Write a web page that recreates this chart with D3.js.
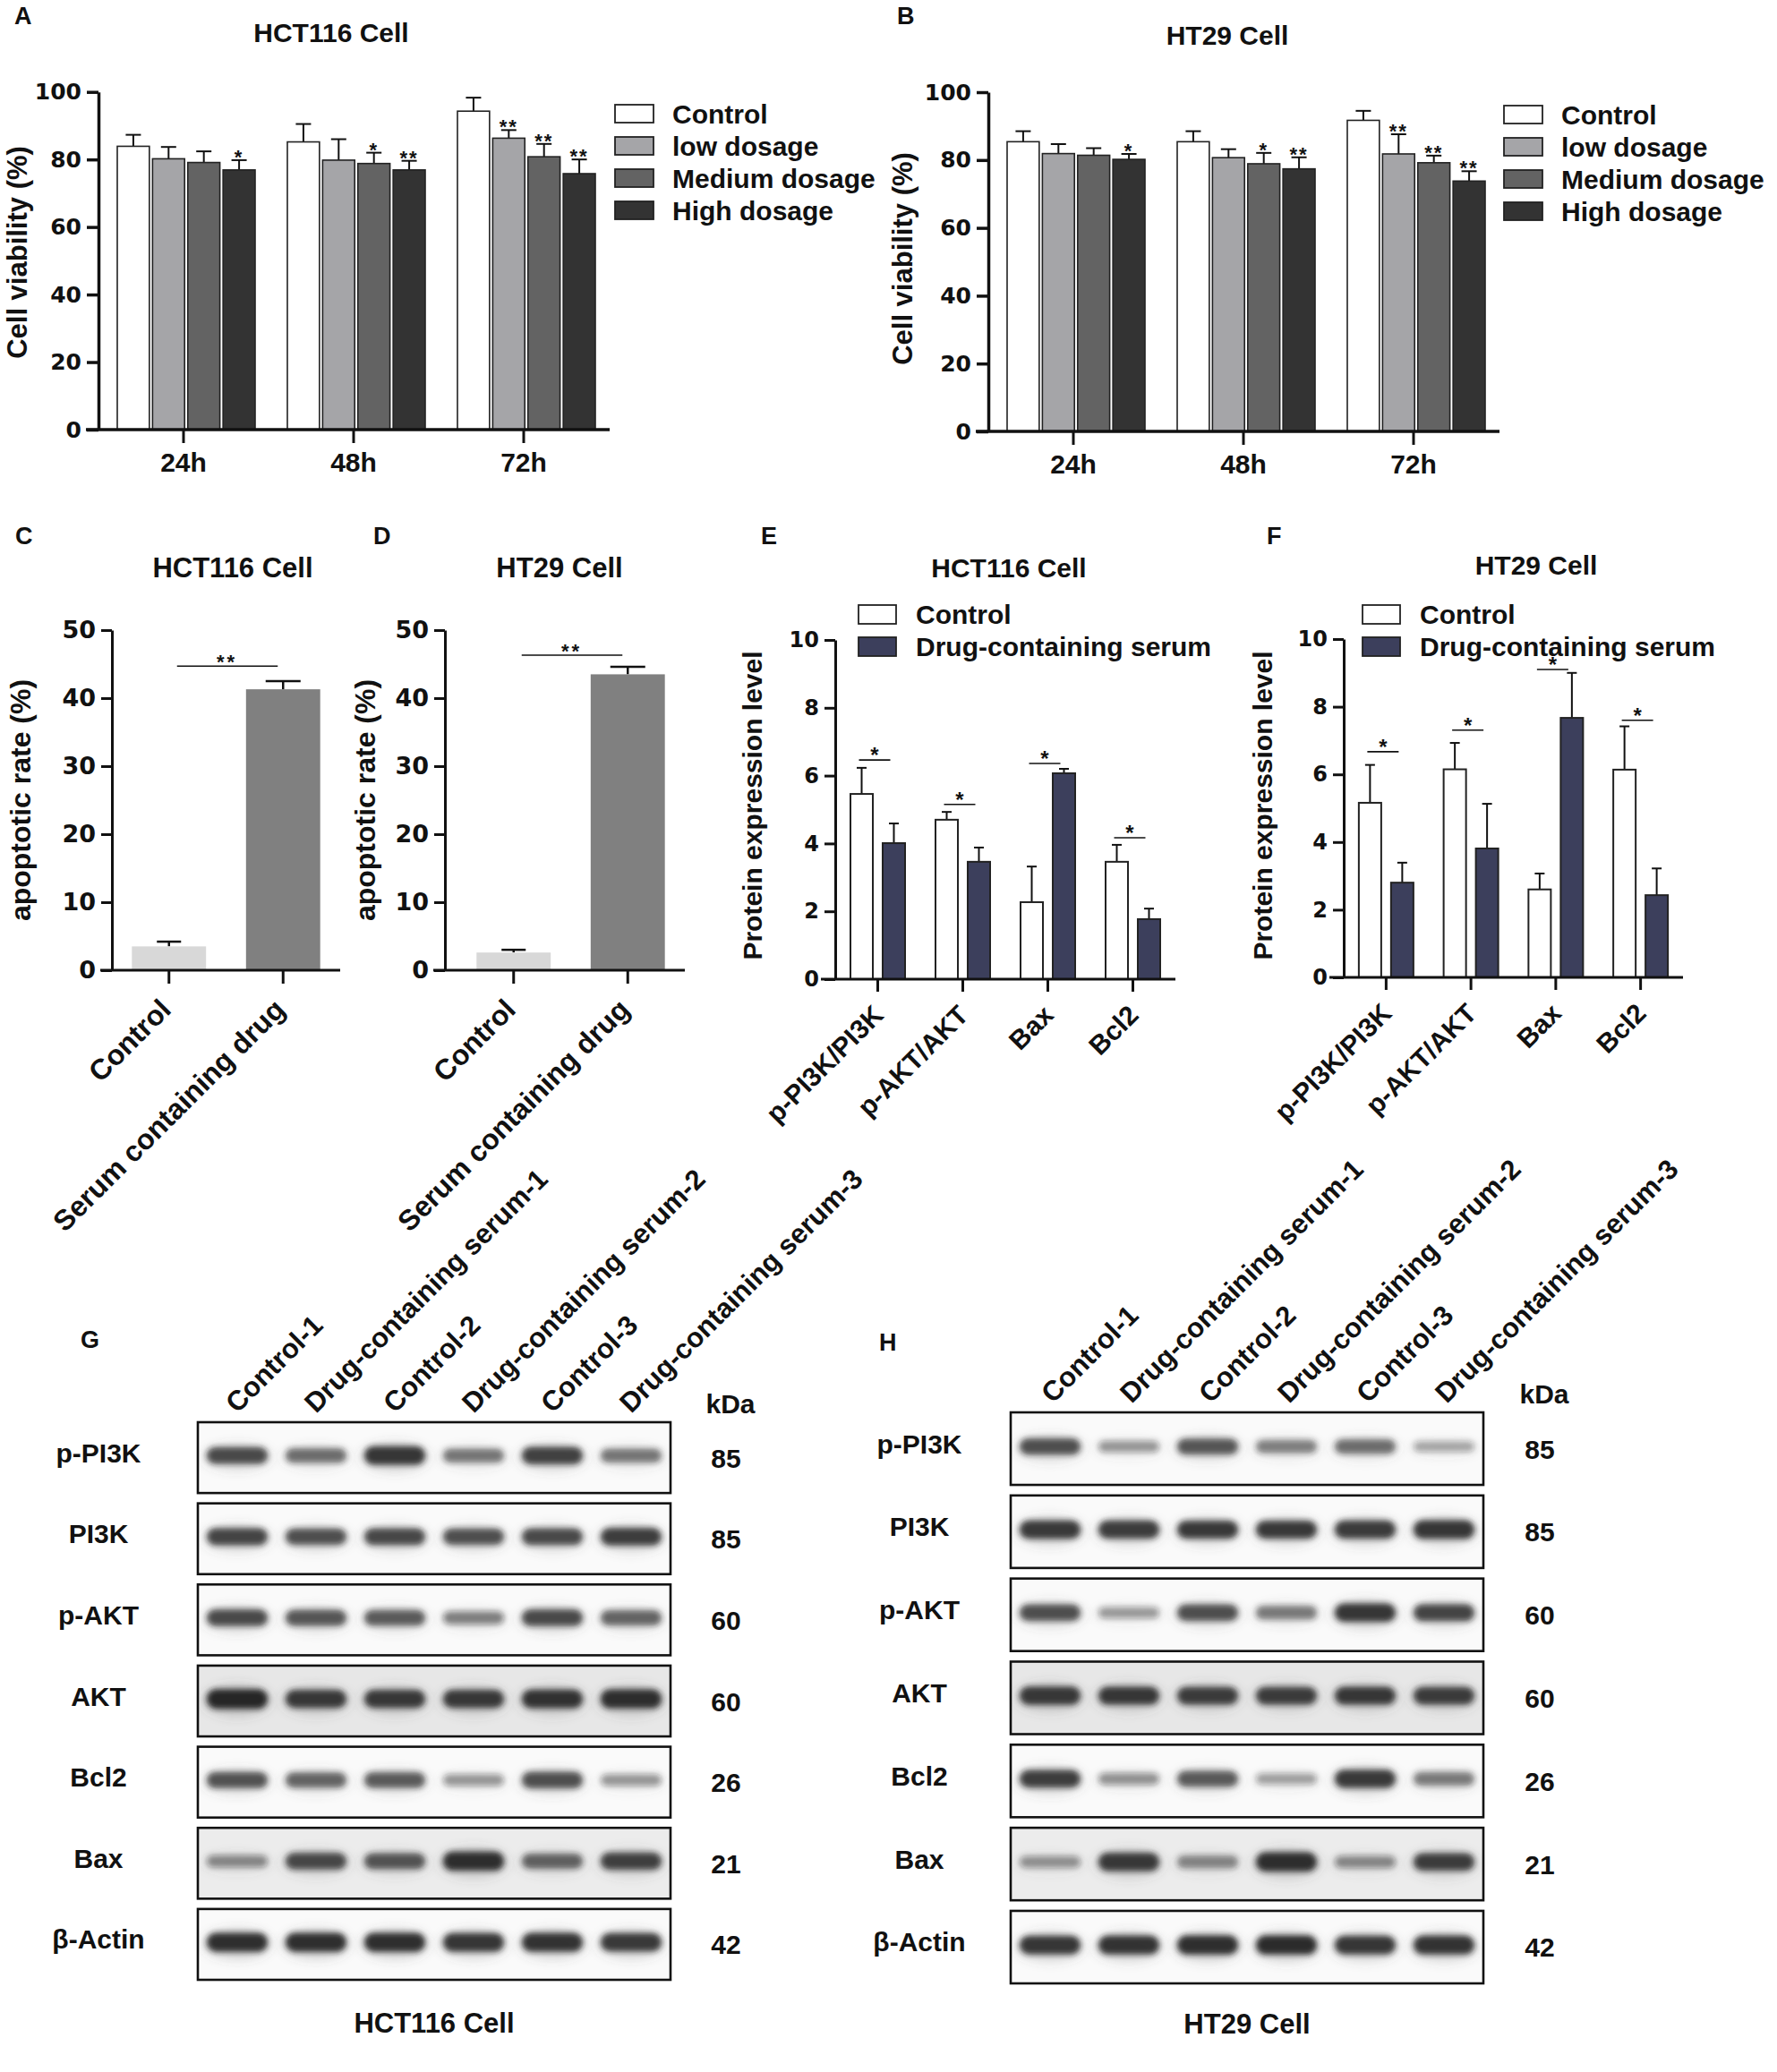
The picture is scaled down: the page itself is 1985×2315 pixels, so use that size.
<!DOCTYPE html>
<html>
<head>
  <meta charset="utf-8">
  <title>Cell viability, apoptosis and PI3K/AKT figure</title>
  <script src="https://d3js.org/d3.v7.min.js"></script>
  <style>
    body { margin: 0; background: #fff; }
  </style>
</head>
<body>
<svg width="1985" height="2315"></svg>
<script>
// ---------- data ----------
const timePoints = ["24h", "48h", "72h"];
const dosageGroups = ["Control", "low dosage", "Medium dosage", "High dosage"];
const viabilityTicks = [0, 20, 40, 60, 80, 100];

// A: HCT116 viability (%), rows = time points, cols = dosage groups
const hctViability = [[83.9, 80.2, 79.1, 76.9], [85.2, 79.8, 78.8, 76.9], [94.3, 86.3, 80.8, 75.8]];
const hctViabilityErr = [[87.3, 83.7, 82.4, 79.8], [90.5, 86.0, 82.0, 79.6], [98.3, 88.7, 84.6, 80.0]];
const hctViabilitySig = [["", "", "", "*"], ["", "", "*", "**"], ["", "**", "**", "**"]];
// B: HT29 viability (%)
const htViability = [[85.4, 81.9, 81.4, 80.2], [85.4, 80.7, 78.9, 77.4], [91.7, 81.8, 79.2, 73.8]];
const htViabilityErr = [[88.5, 84.7, 83.5, 81.8], [88.5, 83.2, 82.1, 80.8], [94.5, 87.6, 81.3, 76.7]];
const htViabilitySig = [["", "", "", "*"], ["", "", "*", "**"], ["", "**", "**", "**"]];

// C, D: apoptotic rate (%)
const apoptosisGroups = ["Control", "Serum containing drug"];
const apoptosisTicks = [0, 10, 20, 30, 40, 50];
const hctApoptosis = [3.5, 41.3];
const hctApoptosisErr = [4.2, 42.5];
const hctApoptosisSig = 44.7;
const htApoptosis = [2.6, 43.5];
const htApoptosisErr = [3.0, 44.6];
const htApoptosisSig = 46.3;

// E, F: protein expression level
const proteinGroups = ["p-PI3K/PI3K", "p-AKT/AKT", "Bax", "Bcl2"];
const proteinSeries = ["Control", "Drug-containing serum"];
const proteinTicks = [0, 2, 4, 6, 8, 10];
const hctProteinControl = [5.46, 4.70, 2.27, 3.46];
const hctProteinDrug = [4.01, 3.46, 6.07, 1.77];
const hctProteinControlErr = [6.23, 4.93, 3.32, 3.96];
const hctProteinDrugErr = [4.59, 3.88, 6.20, 2.08];
const hctProteinSig = [6.46, 5.15, 6.36, 4.17];
const htProteinControl = [5.16, 6.15, 2.60, 6.14];
const htProteinDrug = [2.80, 3.81, 7.67, 2.43];
const htProteinControlErr = [6.28, 6.93, 3.07, 7.42];
const htProteinDrugErr = [3.39, 5.13, 9.00, 3.22];
const htProteinSig = [6.67, 7.31, 9.10, 7.60];

// G, H: western blots, relative band intensity (0-1), rows = proteins, cols = lanes
const blotLanes = ["Control-1", "Drug-containing serum-1", "Control-2", "Drug-containing serum-2", "Control-3", "Drug-containing serum-3"];
const blotProteins = ["p-PI3K", "PI3K", "p-AKT", "AKT", "Bcl2", "Bax", "β-Actin"];
const blotKDa = ["85", "85", "60", "60", "26", "21", "42"];
const hctBands = [
  [0.75, 0.55, 0.90, 0.50, 0.80, 0.50],
  [0.78, 0.72, 0.76, 0.72, 0.75, 0.82],
  [0.75, 0.68, 0.65, 0.42, 0.75, 0.60],
  [1.00, 0.88, 0.88, 0.88, 0.92, 0.95],
  [0.70, 0.60, 0.65, 0.30, 0.72, 0.30],
  [0.35, 0.75, 0.68, 0.95, 0.60, 0.80],
  [0.95, 0.95, 0.95, 0.90, 0.92, 0.88]
];
const htBands = [
  [0.72, 0.30, 0.68, 0.45, 0.55, 0.22],
  [0.88, 0.86, 0.85, 0.85, 0.87, 0.90],
  [0.72, 0.28, 0.72, 0.48, 0.90, 0.78],
  [0.88, 0.85, 0.82, 0.82, 0.85, 0.82],
  [0.82, 0.32, 0.66, 0.25, 0.88, 0.48],
  [0.30, 0.88, 0.40, 0.95, 0.35, 0.82],
  [0.90, 0.92, 0.95, 0.97, 0.90, 0.92]
];

// ---------- drawing ----------
const INK = "#111";
const SANS = "'Liberation Sans', Arial, sans-serif";
const WIDE = "'DejaVu Sans', sans-serif";
const dosageColors = ["#ffffff", "#a5a5a8", "#636363", "#333333"];
const apoptosisColors = ["#d8d8d8", "#808080"];
const proteinColors = ["#ffffff", "#3c3f5c"];

const svg = d3.select("svg");
svg.append("rect").attr("width", 1985).attr("height", 2315).attr("fill", "#fff");
const root = svg.append("g")
  .attr("font-family", SANS)
  .attr("font-weight", "bold")
  .attr("fill", INK);

const defs = svg.append("defs");
defs.append("filter").attr("id", "blur")
  .attr("x", "-30%").attr("y", "-100%").attr("width", "160%").attr("height", "300%")
  .append("feGaussianBlur").attr("stdDeviation", 3.2);
defs.append("filter").attr("id", "halo")
  .attr("x", "-30%").attr("y", "-150%").attr("width", "160%").attr("height", "400%")
  .append("feGaussianBlur").attr("stdDeviation", 6);

function axisStyle(sel, w, family, size) {
  sel.attr("font-family", family).attr("font-size", size).attr("font-weight", "bold");
  sel.select(".domain").attr("stroke", INK).attr("stroke-width", w);
  sel.selectAll(".tick line").attr("stroke", INK).attr("stroke-width", w);
  sel.selectAll(".tick text").attr("fill", INK);
}

function text(g, x, y, s, size, anchor) {
  return g.append("text").attr("x", x).attr("y", y).attr("font-size", size)
    .attr("text-anchor", anchor || "middle").text(s);
}

function yLabel(g, x, y, s, size) {
  g.append("text").attr("transform", `translate(${x},${y}) rotate(-90)`)
    .attr("text-anchor", "middle").attr("font-size", size).text(s);
}

function errBar(g, cx, y1, y2, cap, w) {
  g.append("line").attr("x1", cx).attr("x2", cx).attr("y1", y1).attr("y2", y2)
    .attr("stroke", INK).attr("stroke-width", w);
  g.append("line").attr("x1", cx - cap / 2).attr("x2", cx + cap / 2).attr("y1", y2).attr("y2", y2)
    .attr("stroke", INK).attr("stroke-width", w);
}

// A, B
function viabilityPanel(o) {
  const g = root.append("g");
  const y = d3.scaleLinear().domain([0, 100]).range([o.y0, o.y100]);
  const x = d3.scaleBand().domain(timePoints).range([o.ax, o.ax + 570]);
  const xs = d3.scaleBand().domain(dosageGroups).range([21, 175]).paddingInner(0.09);

  o.means.forEach((row, i) => row.forEach((v, j) => {
    const bx = x(timePoints[i]) + xs(dosageGroups[j]);
    const cx = bx + xs.bandwidth() / 2;
    errBar(g, cx, y(v), y(o.errs[i][j]), 17, 2);
    g.append("rect").attr("x", bx).attr("y", y(v))
      .attr("width", xs.bandwidth()).attr("height", y(0) - y(v))
      .attr("fill", dosageColors[j]).attr("stroke", "#222").attr("stroke-width", 1.6);
    if (o.sigs[i][j]) {
      text(g, cx, y(o.errs[i][j]) + 4, o.sigs[i][j], 22).attr("letter-spacing", 2);
    }
  }));

  const ya = g.append("g").attr("transform", `translate(${o.ax},0)`)
    .call(d3.axisLeft(y).tickValues(viabilityTicks).tickSize(13).tickPadding(6).tickSizeOuter(0));
  axisStyle(ya, 3.5, WIDE, 25);

  g.append("line").attr("x1", o.ax - 14).attr("x2", o.ax + 571).attr("y1", o.y0).attr("y2", o.y0)
    .attr("stroke", INK).attr("stroke-width", 3.5);
  const xa = g.append("g").attr("transform", `translate(0,${o.y0})`)
    .call(d3.axisBottom(x).tickSize(15).tickPadding(11).tickSizeOuter(0));
  axisStyle(xa, 3, SANS, 30);
  xa.select(".domain").remove();

  dosageGroups.forEach((d, j) => {
    const cy = o.legendY + j * 36;
    g.append("rect").attr("x", o.legendX).attr("y", cy - 10).attr("width", 43).attr("height", 20)
      .attr("fill", dosageColors[j]).attr("stroke", "#222").attr("stroke-width", 1.8);
    text(g, o.legendX + 64, cy + 11, d, 30, "start");
  });

  text(g, o.titleX, o.titleY, o.title, 30);
  yLabel(g, o.labelX, o.labelY, "Cell viability (%)", 31);
  text(g, o.letterX, o.letterY, o.letter, 27, "start");
}

// C, D
function apoptosisPanel(o) {
  const g = root.append("g");
  const y = d3.scaleLinear().domain([0, 50]).range([o.y0, o.y50]);
  const x = d3.scaleBand().domain(apoptosisGroups).range(o.barRange).paddingInner(0.35).paddingOuter(0.175);

  apoptosisGroups.forEach((d, i) => {
    const cx = x(d) + x.bandwidth() / 2;
    errBar(g, cx, y(o.means[i]), y(o.errs[i]), i === 0 ? 27 : 39, 2.5);
    g.append("rect").attr("x", x(d)).attr("y", y(o.means[i]))
      .attr("width", x.bandwidth()).attr("height", y(0) - y(o.means[i]))
      .attr("fill", apoptosisColors[i]);
  });

  const c0 = x(apoptosisGroups[0]) + x.bandwidth() / 2;
  const c1 = x(apoptosisGroups[1]) + x.bandwidth() / 2;
  g.append("line").attr("x1", c0 + 9).attr("x2", c1 - 6)
    .attr("y1", y(o.sig)).attr("y2", y(o.sig)).attr("stroke", INK).attr("stroke-width", 1.5);
  text(g, (c0 + c1) / 2 + 1, y(o.sig) + 3, "**", 22).attr("letter-spacing", 3);

  const ya = g.append("g").attr("transform", `translate(${o.ax},0)`)
    .call(d3.axisLeft(y).tickValues(apoptosisTicks).tickSize(12).tickPadding(6).tickSizeOuter(0));
  axisStyle(ya, 3, WIDE, 27);

  g.append("line").attr("x1", o.ax - 13).attr("x2", o.xEnd).attr("y1", o.y0).attr("y2", o.y0)
    .attr("stroke", INK).attr("stroke-width", 3);
  const xa = g.append("g").attr("transform", `translate(0,${o.y0})`)
    .call(d3.axisBottom(x).tickSize(15).tickFormat(""));
  axisStyle(xa, 3, SANS, 32);
  xa.select(".domain").remove();

  apoptosisGroups.forEach(d => {
    const cx = x(d) + x.bandwidth() / 2;
    g.append("text").attr("transform", `translate(${cx + 4},${o.y0 + 46}) rotate(-45)`)
      .attr("text-anchor", "end").attr("font-size", 32).text(d);
  });

  text(g, o.titleX, 645, o.title, 31);
  yLabel(g, o.labelX, 894, "apoptotic rate (%)", 32);
  text(g, o.letterX, 608, o.letter, 27, "start");
}

// E, F
function proteinPanel(o) {
  const g = root.append("g");
  const y = d3.scaleLinear().domain([0, 10]).range([o.y0, o.y10]);
  const x = d3.scaleBand().domain(proteinGroups).range([o.ax, o.xEnd]);
  const xs = d3.scaleBand().domain(proteinSeries).range([-30.5, 30.5]).paddingInner(0.305);
  const series = [o.control, o.drug];
  const errs = [o.controlErr, o.drugErr];

  proteinGroups.forEach((d, i) => {
    const mid = x(d) + x.bandwidth() / 2;
    proteinSeries.forEach((s, j) => {
      const bx = mid + xs(s);
      const cx = bx + xs.bandwidth() / 2;
      errBar(g, cx, y(series[j][i]), y(errs[j][i]), 11, 2);
      g.append("rect").attr("x", bx).attr("y", y(series[j][i]))
        .attr("width", xs.bandwidth()).attr("height", y(0) - y(series[j][i]))
        .attr("fill", proteinColors[j]).attr("stroke", "#222").attr("stroke-width", 2);
    });
    const l = mid + xs(proteinSeries[0]) + xs.bandwidth() / 2 - 3;
    const r = mid + xs(proteinSeries[1]) + xs.bandwidth() / 2 - 4;
    g.append("line").attr("x1", l).attr("x2", r).attr("y1", y(o.sig[i])).attr("y2", y(o.sig[i]))
      .attr("stroke", INK).attr("stroke-width", 1.6);
    text(g, (l + r) / 2, y(o.sig[i]) + 3, "*", 24);
  });

  const ya = g.append("g").attr("transform", `translate(${o.ax},0)`)
    .call(d3.axisLeft(y).tickValues(proteinTicks).tickSize(12).tickPadding(6).tickSizeOuter(0));
  axisStyle(ya, 3, WIDE, 24);

  g.append("line").attr("x1", o.ax - 16).attr("x2", o.xEnd).attr("y1", o.y0).attr("y2", o.y0)
    .attr("stroke", INK).attr("stroke-width", 3);
  const xa = g.append("g").attr("transform", `translate(0,${o.y0})`)
    .call(d3.axisBottom(x).tickSize(14).tickFormat(""));
  axisStyle(xa, 3, SANS, 30);
  xa.select(".domain").remove();

  proteinGroups.forEach(d => {
    const cx = x(d) + x.bandwidth() / 2;
    g.append("text").attr("transform", `translate(${cx + 8},${o.y0 + 42}) rotate(-45)`)
      .attr("text-anchor", "end").attr("font-size", 30).text(d);
  });

  proteinSeries.forEach((s, j) => {
    const cy = 686 + j * 36;
    g.append("rect").attr("x", o.legendX).attr("y", cy - 10).attr("width", 42).attr("height", 21)
      .attr("fill", proteinColors[j]).attr("stroke", "#222").attr("stroke-width", 1.8);
    text(g, o.legendX + 64, cy + 11, s, 30, "start");
  });

  text(g, o.titleX, o.titleY, o.title, 30);
  yLabel(g, o.labelX, 900, "Protein expression level", 30);
  text(g, o.letterX, 608, o.letter, 27, "start");
}

// G, H
const blotBackground = { "AKT": "#e7e7e7", "Bax": "#ececec" };
function blotPanel(o) {
  const g = root.append("g");
  const lanes = d3.scaleBand().domain(blotLanes).range([o.left, o.right]);
  const rows = d3.scaleBand().domain(blotProteins).range([o.top, o.bottom]).paddingInner(0.127);
  const shade = d3.scaleLinear().domain([0, 1]).range([0.18, 0.95]);

  blotProteins.forEach((p, r) => {
    const ry = rows(p), h = rows.bandwidth();
    g.append("rect").attr("x", o.left).attr("y", ry).attr("width", o.right - o.left).attr("height", h)
      .attr("fill", blotBackground[p] || "#fafafa");
    o.bands[r].forEach((v, k) => {
      const cx = lanes(blotLanes[k]) + lanes.bandwidth() / 2;
      const bh = 9 + 13 * v;
      const cy = ry + h * 0.47;
      g.append("ellipse").attr("cx", cx).attr("cy", cy + 2)
        .attr("rx", 38).attr("ry", bh * 0.8)
        .attr("fill", "#555").attr("fill-opacity", shade(v) * 0.25)
        .attr("filter", "url(#halo)");
      g.append("rect").attr("x", cx - 34).attr("y", cy - bh / 2)
        .attr("width", 68).attr("height", bh).attr("rx", bh / 2)
        .attr("fill", "#1c1c1c").attr("fill-opacity", shade(v))
        .attr("filter", "url(#blur)");
    });
    g.append("rect").attr("x", o.left).attr("y", ry).attr("width", o.right - o.left).attr("height", h)
      .attr("fill", "none").attr("stroke", INK).attr("stroke-width", 2.6);
    text(g, o.labelX, ry + h / 2 + 5, p, 30);
    text(g, o.kdaX, ry + h / 2 + 11, blotKDa[r], 30);
  });

  blotLanes.forEach(l => {
    const cx = lanes(l) + lanes.bandwidth() / 2;
    g.append("text").attr("transform", `translate(${cx + o.laneShift},${o.top - 9}) rotate(-45)`)
      .attr("font-size", 31).text(l);
  });
  text(g, o.kdaX + 5, o.top - 10, "kDa", 30);
  text(g, (o.left + o.right) / 2, o.captionY, o.caption, 31);
  text(g, o.letterX, o.letterY, o.letter, 27, "start");
}

viabilityPanel({
  means: hctViability, errs: hctViabilityErr, sigs: hctViabilitySig,
  ax: 110, y0: 480, y100: 102.7, legendX: 687, legendY: 127,
  title: "HCT116 Cell", titleX: 370, titleY: 47, labelX: 30, labelY: 282,
  letter: "A", letterX: 16, letterY: 27
});
viabilityPanel({
  means: htViability, errs: htViabilityErr, sigs: htViabilitySig,
  ax: 1104, y0: 482, y100: 103, legendX: 1680, legendY: 128,
  title: "HT29 Cell", titleX: 1371, titleY: 50, labelX: 1019, labelY: 289,
  letter: "B", letterX: 1002, letterY: 27
});

apoptosisPanel({
  means: hctApoptosis, errs: hctApoptosisErr, sig: hctApoptosisSig,
  ax: 125, xEnd: 380, y0: 1084, y50: 704, barRange: [125, 380],
  title: "HCT116 Cell", titleX: 260, labelX: 34, letter: "C", letterX: 17
});
apoptosisPanel({
  means: htApoptosis, errs: htApoptosisErr, sig: htApoptosisSig,
  ax: 497, xEnd: 765, y0: 1084, y50: 704, barRange: [510, 765],
  title: "HT29 Cell", titleX: 625, labelX: 419, letter: "D", letterX: 417
});

proteinPanel({
  control: hctProteinControl, drug: hctProteinDrug,
  controlErr: hctProteinControlErr, drugErr: hctProteinDrugErr, sig: hctProteinSig,
  ax: 933, xEnd: 1313, y0: 1094, y10: 715, legendX: 959,
  title: "HCT116 Cell", titleX: 1127, titleY: 645, labelX: 851, letter: "E", letterX: 850
});
proteinPanel({
  control: htProteinControl, drug: htProteinDrug,
  controlErr: htProteinControlErr, drugErr: htProteinDrugErr, sig: htProteinSig,
  ax: 1501, xEnd: 1880, y0: 1092, y10: 714, legendX: 1522,
  title: "HT29 Cell", titleX: 1716, titleY: 642, labelX: 1421, letter: "F", letterX: 1415
});

blotPanel({
  bands: hctBands, left: 221, right: 749, top: 1589, bottom: 2212,
  labelX: 110, kdaX: 811, laneShift: 0, caption: "HCT116 Cell", captionY: 2271,
  letter: "G", letterX: 90, letterY: 1506
});
blotPanel({
  bands: htBands, left: 1129, right: 1657, top: 1578, bottom: 2216,
  labelX: 1027, kdaX: 1720, laneShift: 3, caption: "HT29 Cell", captionY: 2272,
  letter: "H", letterX: 982, letterY: 1509
});
</script>
</body>
</html>
